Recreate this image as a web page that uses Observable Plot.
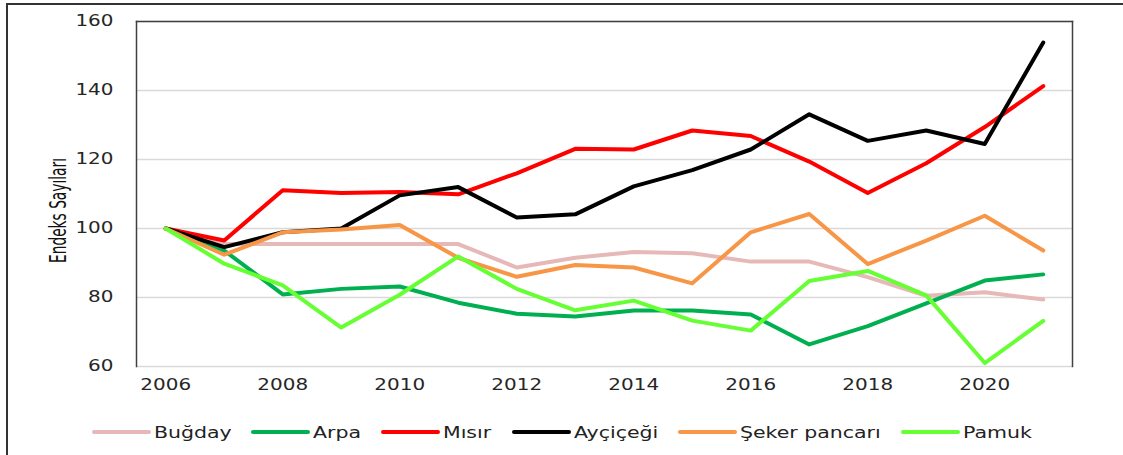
<!DOCTYPE html>
<html><head><meta charset="utf-8">
<script src="https://cdn.jsdelivr.net/npm/d3@7"></script>
<script src="https://cdn.jsdelivr.net/npm/@observablehq/plot@0.6"></script>
<style>
body{margin:0;background:#fff;}
#wrap{position:relative;width:1123px;height:455px;overflow:hidden;background:#fff;}
#border{position:absolute;left:6px;top:3px;width:1130px;height:470px;border-top:2px solid #333;border-left:2px solid #333;}
#chart{position:absolute;left:0;top:0;}
#legend{position:absolute;left:0;top:420px;width:1123px;height:24px;display:flex;justify-content:center;align-items:center;font-family:"DejaVu Sans",sans-serif;font-size:16px;color:#222;}
.item{display:flex;align-items:center;margin:0 10px;white-space:nowrap;}
.sw{display:inline-block;width:59px;height:4px;border-radius:2px;margin-right:3px;}
.lt{display:inline-block;transform-origin:0 50%;}
</style></head>
<body>
<div id="wrap"><div id="border"></div><div id="chart"></div><div id="legend"></div></div>
<script>
const years = [2006,2007,2008,2009,2010,2011,2012,2013,2014,2015,2016,2017,2018,2019,2020,2021];
const seriesNames = ["Buğday","Arpa","Mısır","Ayçiçeği","Şeker pancarı","Pamuk"];
const seriesColors = ["#E6B9B8","#00B050","#FF0000","#000000","#F79646","#66FF33"];
const bugday   = [100, 95.5, 95.5, 95.5, 95.5, 95.5, 88.7, 91.5, 93.2, 92.8, 90.4, 90.4, 85.9, 80.5, 81.5, 79.4];
const arpa     = [100, 93.6, 80.9, 82.5, 83.2, 78.5, 75.3, 74.5, 76.2, 76.2, 75.1, 66.4, 71.7, 78.3, 84.9, 86.7];
const misir    = [100, 96.5, 111.1, 110.3, 110.6, 109.9, 116.0, 123.1, 122.9, 128.4, 126.8, 119.4, 110.3, 118.9, 129.4, 141.3];
const aycicegi = [100, 94.6, 98.9, 100.0, 109.6, 112.0, 103.2, 104.1, 112.2, 116.9, 122.9, 133.1, 125.4, 128.4, 124.5, 153.9];
const seker    = [100, 92.4, 98.9, 99.7, 101.0, 91.5, 86.0, 89.4, 88.7, 84.1, 98.9, 104.2, 89.7, 96.5, 103.7, 93.6];
const pamuk    = [100, 89.8, 83.5, 71.3, 80.8, 91.9, 82.5, 76.3, 79.1, 73.3, 70.4, 84.8, 87.7, 80.6, 61.0, 73.2];
const xTicks = [2006,2008,2010,2012,2014,2016,2018,2020];
const yTicks = [60,80,100,120,140,160];
const yTitle = "Endeks Sayıları";

const allSeries = [bugday, arpa, misir, aycicegi, seker, pamuk];
const rows = [];
allSeries.forEach((vals, i) => vals.forEach((v, j) => rows.push({series: seriesNames[i], year: years[j], value: v})));

const plot = Plot.plot({
  width: 1123, height: 400,
  marginLeft: 136, marginRight: 51, marginTop: 21, marginBottom: 34,
  style: {fontFamily: "DejaVu Sans, sans-serif", fontSize: "15px", color: "#262626", background: "transparent"},
  x: {domain: [2005.5, 2021.5]},
  y: {domain: [60, 160]},
  color: {domain: seriesNames, range: seriesColors},
  marks: [
    Plot.gridY(yTicks, {stroke: "#d9d9d9", strokeOpacity: 1, strokeWidth: 1.5}),
    Plot.frame({anchor: "top", stroke: "#404040", strokeWidth: 1.5}),
    Plot.frame({anchor: "left", stroke: "#404040", strokeWidth: 1.5}),
    Plot.frame({anchor: "right", stroke: "#404040", strokeWidth: 1.5}),
    Plot.lineY(rows, {x: "year", y: "value", z: "series", stroke: "series", strokeWidth: 4, strokeLinejoin: "round", strokeLinecap: "round"}),
    Plot.axisX(xTicks, {tickSize: 0, tickPadding: 13, tickFormat: d => String(d), label: null}),
    Plot.axisY(yTicks, {tickSize: 0, tickPadding: 23, label: null})
  ]
});
document.getElementById("chart").appendChild(plot);

// stretch tick labels horizontally (reference text is wide)
const stretch = 1.33;
d3.select(plot).selectAll('g[aria-label$="tick label"] text').each(function() {
  const w = this.getComputedTextLength();
  this.setAttribute("textLength", (w * stretch).toFixed(1));
  this.setAttribute("lengthAdjust", "spacingAndGlyphs");
});

// y-axis title
d3.select(plot).append("text")
  .attr("transform", "translate(66,210.5) rotate(-90)")
  .attr("text-anchor", "middle")
  .attr("textLength", 105)
  .attr("lengthAdjust", "spacingAndGlyphs")
  .style("font-family", "DejaVu Sans Condensed, DejaVu Sans, sans-serif")
  .style("font-size", "23px")
  .attr("fill", "#111")
  .text(yTitle);

// legend
const legend = d3.select("#legend");
seriesNames.forEach((name, i) => {
  const it = legend.append("div").attr("class", "item");
  it.append("span").attr("class", "sw").style("background", seriesColors[i]);
  it.append("span").attr("class", "lt").text(name);
});
const lstretch = 1.28;
legend.selectAll(".lt").each(function() {
  const w = this.getBoundingClientRect().width;
  this.style.transform = `scaleX(${lstretch})`;
  this.style.marginRight = (w * (lstretch - 1)).toFixed(1) + "px";
});
</script>
</body></html>
